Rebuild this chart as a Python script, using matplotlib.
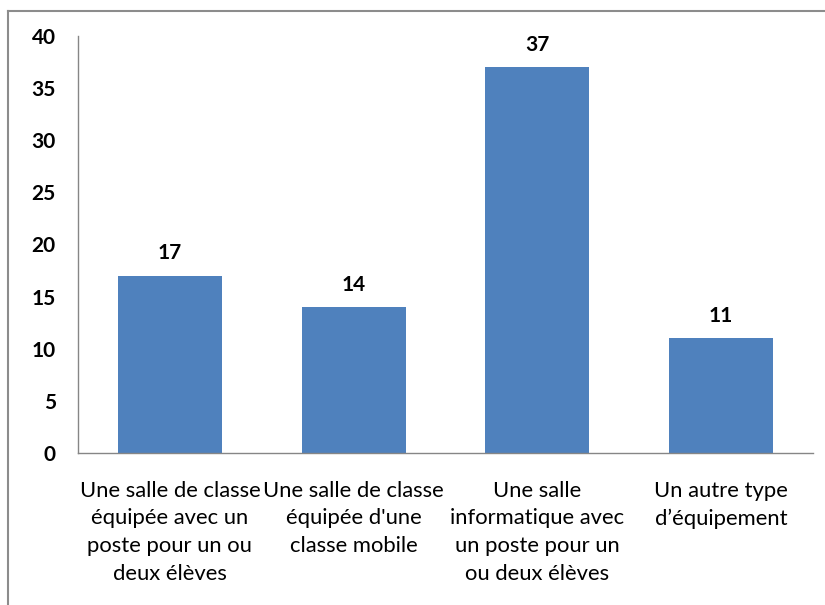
import matplotlib.pyplot as plt
from matplotlib.lines import Line2D

# Donnees
categories = ["Une salle de classe\néquipée avec un\nposte pour un ou\ndeux élèves",
              "Une salle de classe\néquipée d'une\nclasse mobile",
              "Une salle\ninformatique avec\nun poste pour un\nou deux élèves",
              "Un autre type\nd’équipement"]
valeurs = [17, 14, 37, 11]
yticks = [0, 5, 10, 15, 20, 25, 30, 35, 40]

plt.rcParams['font.family'] = ['Lato', 'DejaVu Sans']

fig = plt.figure(figsize=(8.25, 6.05), dpi=100)
ax = fig.add_axes([78 / 825, 1 - 453 / 605, 735 / 825, 417 / 605])

x = range(len(categories))
bars = ax.bar(x, valeurs, width=0.566, color='#4F81BD')
for b, v in zip(bars, valeurs):
    ax.text(b.get_x() + b.get_width() / 2, v + 1.2, str(v), ha='center', va='bottom',
            fontsize=15, fontweight='bold')

ax.set_xlim(-0.5, len(categories) - 0.5)
ax.set_ylim(0, 40)
ax.set_yticks(yticks)
ax.set_xticks(list(x))
ax.set_xticklabels(categories, fontsize=15.8, linespacing=1.48)
for lab in ax.get_yticklabels():
    lab.set_fontweight('bold')
    lab.set_fontsize(15)
ax.tick_params(axis='y', length=0, pad=16)
ax.tick_params(axis='x', length=0, pad=20)

for s in ['top', 'right']:
    ax.spines[s].set_visible(False)
for s in ['left', 'bottom']:
    ax.spines[s].set_color('#868686')
    ax.spines[s].set_linewidth(1)

# Cadre du graphique
fig.add_artist(Line2D([8 / 825, 8 / 825], [0, 1 - 11 / 605], transform=fig.transFigure,
                      color='#8c8c8c', linewidth=1.5))
fig.add_artist(Line2D([8 / 825, 1], [1 - 11 / 605, 1 - 11 / 605], transform=fig.transFigure,
                      color='#8c8c8c', linewidth=1.5))

plt.savefig("out.png", dpi=100)
